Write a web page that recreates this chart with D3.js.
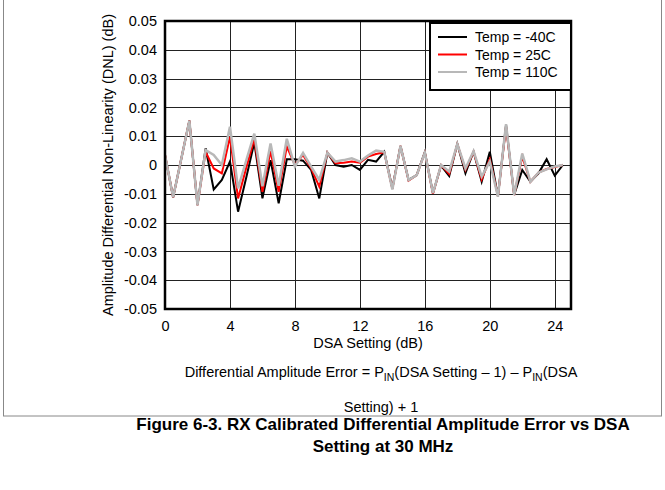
<!DOCTYPE html>
<html><head><meta charset="utf-8">
<script src="https://cdn.jsdelivr.net/npm/d3@7"></script>
<style>
body{margin:0;background:#fff;}
svg{display:block;font-family:"Liberation Sans",Arial,sans-serif;}
</style></head>
<body><svg id="c" width="665" height="490"></svg>
<script>
const dsa = d3.range(0, 24.51, 0.5);
const seriesNames = ["Temp = -40C", "Temp = 25C", "Temp = 110C"];
const tempM40 = [0.0035,-0.0112,0.0021,0.0154,-0.0139,0.0058,-0.0085,-0.0052,0.0012,-0.0162,
 -0.0044,0.0078,-0.0116,0.0017,-0.0133,0.0020,0.0020,0.0015,-0.0017,-0.0116,
 0.0043,0.0000,-0.0006,0.0000,-0.0017,0.0018,0.0012,0.0046,-0.0081,0.0066,
 -0.0052,-0.0035,0.0045,-0.0098,-0.0002,-0.0038,0.0073,-0.0029,0.0046,-0.0058,
 0.0046,-0.0108,0.0139,-0.0104,-0.0017,-0.0058,-0.0029,0.0020,-0.0037,0.0000];
const temp25 = [0.0035,-0.0112,0.0021,0.0154,-0.0139,0.0046,-0.0012,-0.0029,0.0098,-0.0116,
 -0.0010,0.0090,-0.0093,0.0048,-0.0093,0.0064,0.0000,0.0035,-0.0012,-0.0075,
 0.0043,0.0006,0.0008,0.0012,0.0008,0.0029,0.0038,0.0044,-0.0083,0.0066,
 -0.0054,-0.0035,0.0043,-0.0100,0.0000,-0.0031,0.0073,-0.0017,0.0046,-0.0050,
 0.0020,-0.0108,0.0133,-0.0104,0.0029,-0.0058,-0.0026,-0.0014,-0.0007,0.0000];
const temp110 = [0.0035,-0.0112,0.0021,0.0154,-0.0139,0.0052,0.0035,0.0000,0.0133,-0.0081,
 0.0015,0.0109,-0.0074,0.0075,-0.0072,0.0091,-0.0006,0.0042,-0.0006,-0.0052,
 0.0043,0.0012,0.0017,0.0023,0.0012,0.0033,0.0050,0.0046,-0.0085,0.0066,
 -0.0052,-0.0035,0.0043,-0.0098,0.0000,-0.0023,0.0073,-0.0012,0.0048,-0.0040,
 0.0012,-0.0110,0.0142,-0.0104,0.0040,-0.0058,-0.0026,-0.0015,-0.0005,0.0000];
const xTicks = [0,4,8,12,16,20,24];
const yTicks = [0.05,0.04,0.03,0.02,0.01,0,-0.01,-0.02,-0.03,-0.04,-0.05];
const yTickLabels = ["0.05","0.04","0.03","0.02","0.01","0","-0.01","-0.02","-0.03","-0.04","-0.05"];
const colors = ["#000000","#ff0000","#b8b8b8"];

const svg = d3.select("#c");
const L=165,R=571,T=21,B=309;
const x = d3.scaleLinear().domain([0,25]).range([L,R]);
const y = d3.scaleLinear().domain([-0.05,0.05]).range([B,T]);
const FONT = "Liberation Sans, Arial, sans-serif";

// outer frame
svg.append("rect").attr("x",3.5).attr("y",-2).attr("width",658).attr("height",418)
  .attr("fill","none").attr("stroke","#888").attr("stroke-width",1);

// grid
svg.append("g").selectAll("line").data(xTicks.filter(d=>d>0)).join("line")
  .attr("x1",d=>Math.round(x(d))+0.5).attr("x2",d=>Math.round(x(d))+0.5)
  .attr("y1",T).attr("y2",B).attr("stroke","#222").attr("stroke-width",1);
svg.append("g").selectAll("line").data(yTicks).join("line")
  .attr("x1",L).attr("x2",R).attr("y1",d=>Math.round(y(d))+0.5).attr("y2",d=>Math.round(y(d))+0.5)
  .attr("stroke","#222").attr("stroke-width",1);

// axes labels
const ya = svg.append("g").attr("transform",`translate(${L},0)`)
  .call(d3.axisLeft(y).tickValues(yTicks).tickFormat((d,i)=>yTickLabels[i]).tickSize(0).tickPadding(8));
ya.select(".domain").remove();
ya.selectAll("text").attr("font-size",14.5).attr("fill","#000").attr("font-family",FONT);
const xa = svg.append("g").attr("transform",`translate(0,${B})`)
  .call(d3.axisBottom(x).tickValues(xTicks).tickFormat(d3.format("d")).tickSize(0).tickPadding(12));
xa.select(".domain").remove();
xa.selectAll("text").attr("font-size",14.5).attr("fill","#000").attr("font-family",FONT);

svg.append("text").attr("x",368).attr("y",348).attr("text-anchor","middle")
  .attr("font-size",14.5).text("DSA Setting (dB)");
svg.append("text").attr("transform",`translate(113,${(T+B)/2}) rotate(-90)`).attr("text-anchor","middle")
  .attr("font-size",14.5).text("Amplitude Differential Non-Linearity (DNL) (dB)");

// series
svg.append("clipPath").attr("id","pc").append("rect")
  .attr("x",L).attr("y",T).attr("width",R-L).attr("height",B-T);
const allSeries = [tempM40,temp25,temp110];
const line = d3.line().x((d,i)=>x(dsa[i])).y(d=>y(d));
const widths=[2,2,2.5];
allSeries.forEach((s,k)=>{
  svg.append("path").datum(s).attr("d",line).attr("fill","none")
    .attr("stroke",colors[k]).attr("stroke-width",widths[k]).attr("stroke-linejoin","miter")
    .attr("clip-path","url(#pc)");
});

// plot border
svg.append("rect").attr("x",L).attr("y",T).attr("width",R-L).attr("height",B-T)
  .attr("fill","none").attr("stroke","#000").attr("stroke-width",2.5);

// legend
const lg = svg.append("g");
lg.append("rect").attr("x",430).attr("y",23).attr("width",141).attr("height",67)
  .attr("fill","#fff").attr("stroke","#000").attr("stroke-width",2);
seriesNames.forEach((n,k)=>{
  const yy = 37 + k*17.5;
  lg.append("line").attr("x1",438).attr("x2",467).attr("y1",yy).attr("y2",yy)
    .attr("stroke",colors[k]).attr("stroke-width",2);
  lg.append("text").attr("x",475).attr("y",yy+5).attr("font-size",14).text(n);
});

// formula text
const f = svg.append("text").attr("x",381).attr("y",377).attr("text-anchor","middle").attr("font-size",14.5);
f.append("tspan").text("Differential Amplitude Error = P");
f.append("tspan").attr("font-size",10.5).attr("dy",4).text("IN");
f.append("tspan").attr("dy",-4).text("(DSA Setting – 1) – P");
f.append("tspan").attr("font-size",10.5).attr("dy",4).text("IN");
f.append("tspan").attr("dy",-4).text("(DSA");
svg.append("text").attr("x",381).attr("y",412).attr("text-anchor","middle").attr("font-size",14.5)
  .text("Setting) + 1");

// caption
svg.append("text").attr("x",383).attr("y",430).attr("text-anchor","middle").attr("font-size",17)
  .attr("font-weight","bold").text("Figure 6-3. RX Calibrated Differential Amplitude Error vs DSA");
svg.append("text").attr("x",383).attr("y",452).attr("text-anchor","middle").attr("font-size",17)
  .attr("font-weight","bold").text("Setting at 30 MHz");
</script></body></html>
